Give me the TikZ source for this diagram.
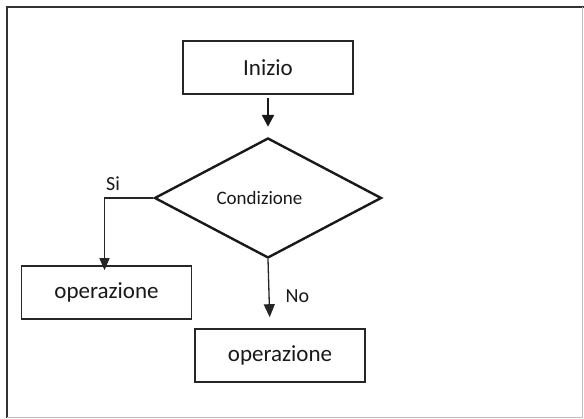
\documentclass[tikz,border=0pt]{standalone}
\usepackage{fontspec}
\setmainfont{Carlito}
\usetikzlibrary{shapes.geometric,positioning,arrows.meta}

\begin{document}
\begin{tikzpicture}[x=1pt,y=1pt,node distance=2cm,on grid,auto,
    block/.style={draw=black!85,line width=1.6pt,minimum width=170pt,minimum height=53pt,
      inner sep=0pt,text=black!90,font=\fontsize{23}{26}\selectfont},
    decision/.style={diamond,draw=black!90,line width=2.4pt,minimum width=227pt,
      minimum height=120pt,inner sep=0pt,text=black!90,font=\fontsize{19}{22}\selectfont},
    answer/.style={text=black!90,font=\fontsize{20}{24}\selectfont}]
    \useasboundingbox (0,0) rectangle (584,-419);
    % frame
    \draw[black!80,line width=2pt] (7,-418) -- (7,-7) -- (584,-7);
    \draw[black!25,line width=1pt] (7,-418) -- (582,-418) -- (582,-7);
    \node[block] (start) at (268,-67.5)                        {Inizio};
    \node[decision] (cond) [below=130.5pt of start]           {\hspace*{-17pt}Condizione};
    \node[block] (opl)     [below left=94.5pt and 161.5pt of cond] {operazione};
    \node[block] (opb)     [below right=63pt and 173.5pt of opl]   {operazione};
    % start to condition
    \draw[-{Triangle[length=12pt,width=12pt]},line width=2.3pt,black!90,
      shorten <=3pt,shorten >=10pt] (start) -- (cond);
    % yes branch
    \draw[-{Triangle[length=12pt,width=10pt]},line width=1.3pt,black!85,shorten >=-5pt]
      (cond.west) -| node[answer,pos=0.5,anchor=south west,inner sep=0pt,xshift=1pt,yshift=7pt] {Si}
      ([xshift=-2pt]opl.north);
    % no branch
    \draw[-{Triangle[length=13pt,width=11pt]},line width=1.3pt,black!85,shorten >=11pt]
      (cond.south) -- node[answer,pos=0.53,anchor=west,inner sep=3pt,xshift=13pt] {No}
      ([xshift=-10pt]opb.north);
\end{tikzpicture}
\end{document}
